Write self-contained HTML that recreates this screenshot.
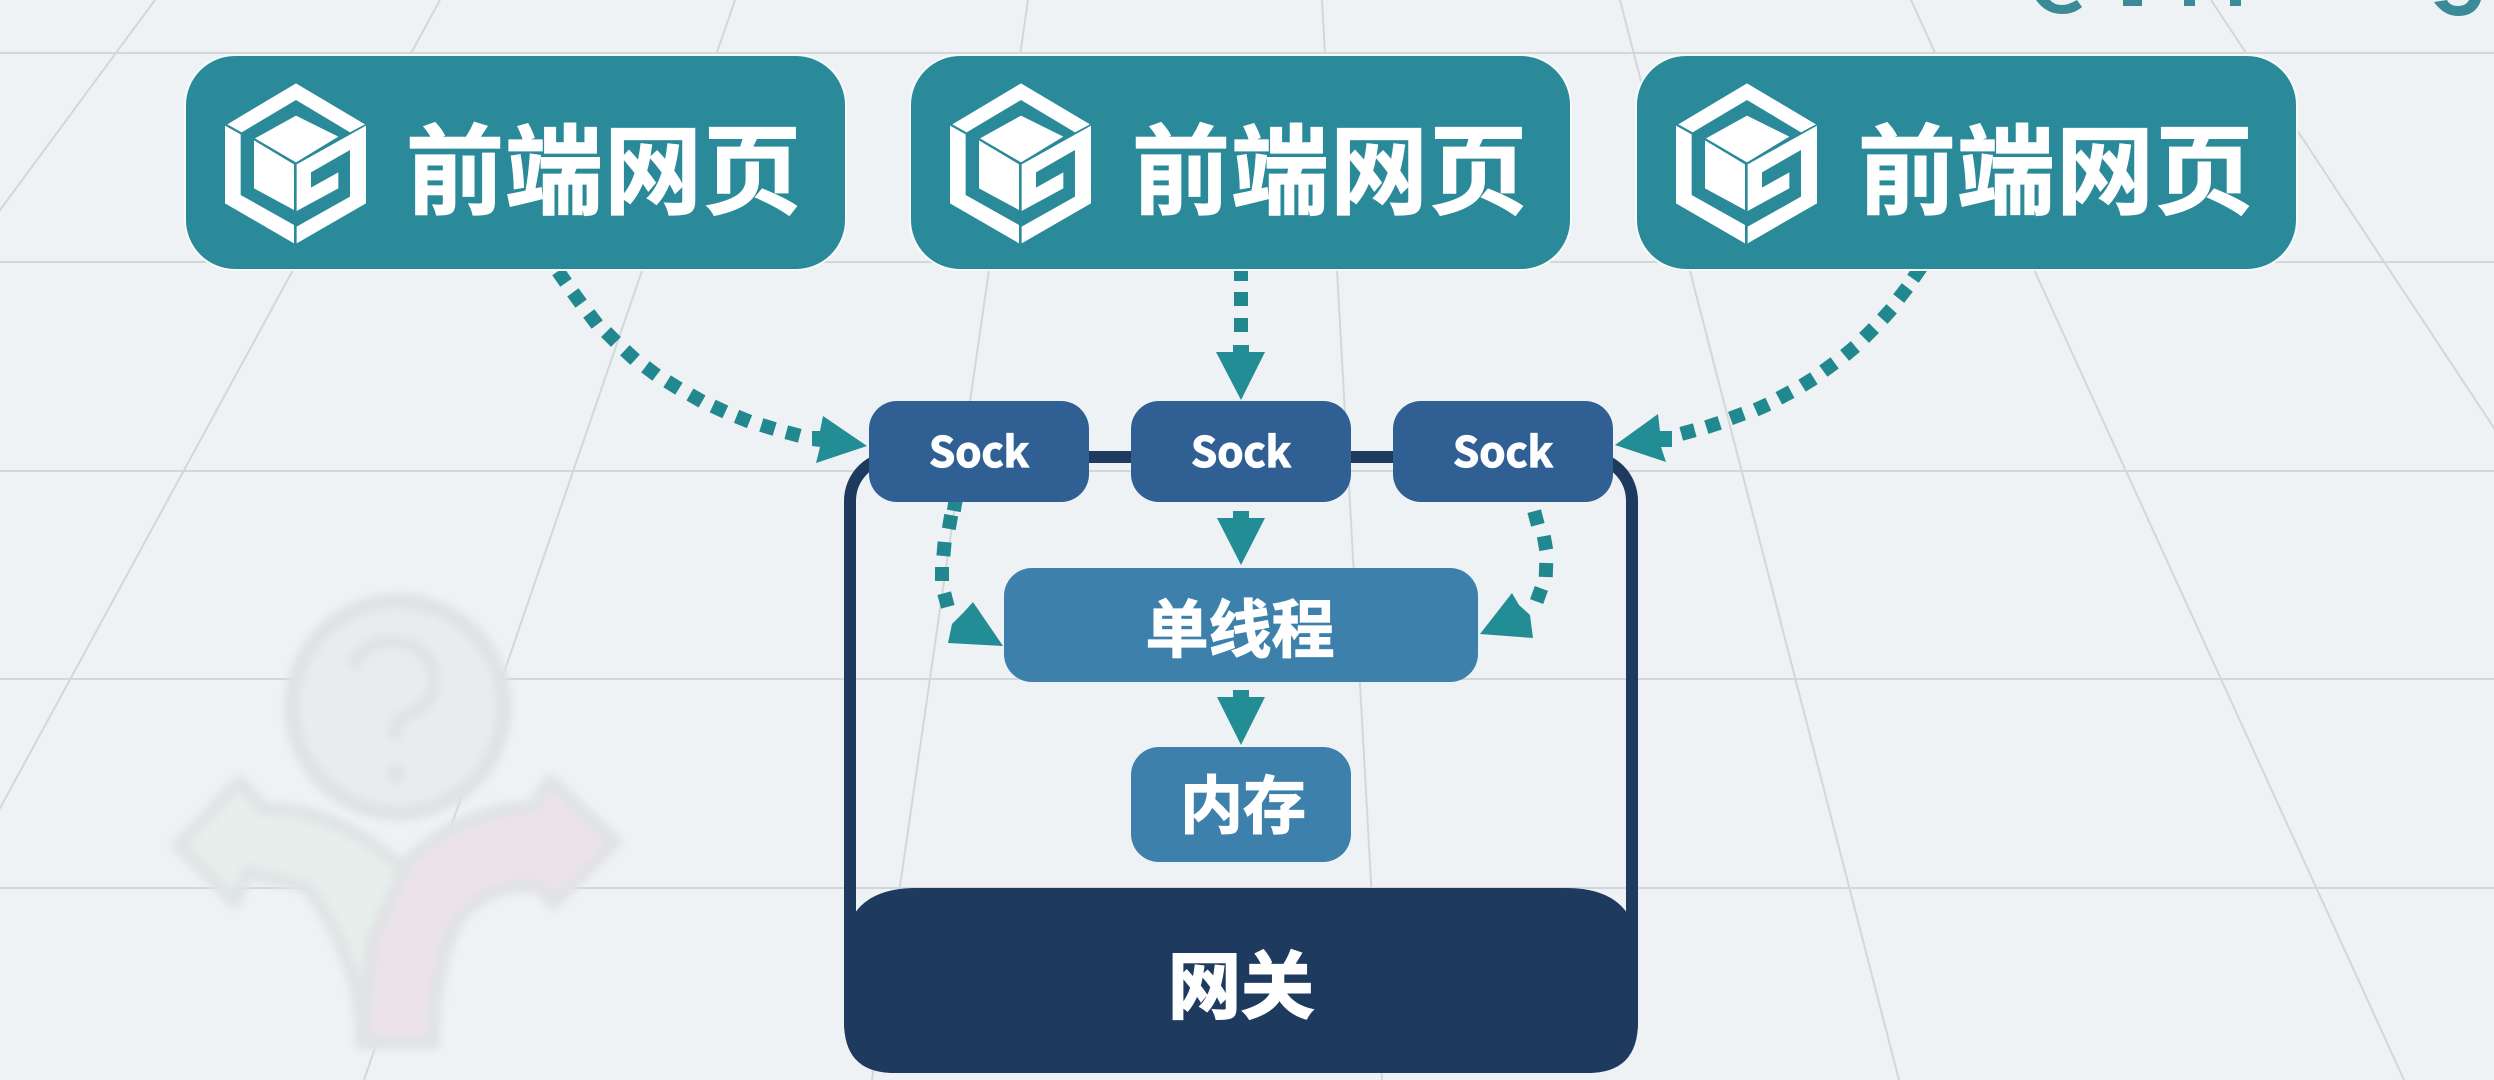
<!DOCTYPE html>
<html><head><meta charset="utf-8"><style>
html,body{margin:0;padding:0;background:#eef2f4}
svg{display:block}
text{font-family:"Liberation Sans","Noto Sans CJK SC",sans-serif;font-weight:700;fill:#fff;stroke:#fff;stroke-width:1.2;text-anchor:middle}
.s{font-family:"Noto Sans CJK SC",sans-serif}
.g line{stroke:#d3d7d9;stroke-width:2}
.d rect{fill:#22888f;width:14px;height:14px;x:-7px;y:-7px}
.h{fill:#238d96}
</style></head><body>
<svg width="2494" height="1080" viewBox="0 0 2494 1080" xmlns="http://www.w3.org/2000/svg">
<defs>
<filter id="b" x="-10%" y="-10%" width="120%" height="120%"><feGaussianBlur stdDeviation="4"/></filter>
<g id="logo" transform="scale(.3333)" fill="#fff">
<polygon points="258,25 465,148 420,172 258,75 95,172 52,148"/>
<polygon points="45,152 92,178 92,360 252,450 252,505 45,385"/>
<polygon points="260,268 468,152 468,385 260,505 260,455 420,365 420,225 303,292 303,338 385,292 385,340 260,408"/>
<polygon points="258,122 385,185 258,262 135,190"/>
<polygon points="132,196 252,268 252,405 132,340"/>
</g>
</defs>
<rect width="2494" height="1080" fill="#eef2f4"/>
<g class="g">
<line x1="0" y1="53" x2="2494" y2="53"/><line x1="0" y1="262" x2="2494" y2="262"/><line x1="0" y1="471" x2="2494" y2="471"/><line x1="0" y1="679" x2="2494" y2="679"/><line x1="0" y1="888" x2="2494" y2="888"/>
<line x1="155" y1="0" x2="-642" y2="1080"/>
<line x1="440" y1="0" x2="-148" y2="1080"/>
<line x1="735" y1="0" x2="364" y2="1080"/>
<line x1="1028" y1="0" x2="872" y2="1080"/>
<line x1="1322" y1="0" x2="1382" y2="1080"/>
<line x1="1620" y1="0" x2="1899" y2="1080"/>
<line x1="1911" y1="0" x2="2404" y2="1080"/>
<line x1="2211" y1="0" x2="2925" y2="1080"/>
</g>
<g filter="url(#b)">
<circle cx="398" cy="707" r="106" fill="#e8ecee" stroke="#dfe3e6" stroke-width="16"/>
<path d="M352 668 Q362 640 396 642 Q432 645 434 680 Q434 705 405 716 Q394 722 394 740" fill="none" stroke="#dfe3e6" stroke-width="13"/>
<circle cx="396" cy="774" r="10" fill="#dfe3e6"/>
<path d="M178 845 L240 782 L263 808 Q340 810 400 867 L410 890 L400 1043 L362 1043 Q362 960 307 887 L247 872 L235 902 Z" fill="#e6efec" stroke="#e0e4e6" stroke-width="14" stroke-linejoin="round"/>
<path d="M615 842 L550 781 L533 807 Q460 810 407 863 L372 940 L362 1043 L433 1043 Q433 970 457 920 Q490 880 540 887 L553 903 Z" fill="#ece3e8" stroke="#e1e3e5" stroke-width="14" stroke-linejoin="round"/>
</g>
<g fill="#3a8a98">
<path d="M2036 0 Q2046 14 2062 14 Q2074 14 2082 7 L2077 0 Q2068 5 2062 5 Q2054 5 2050 0 Z"/>
<rect x="2123" y="0" width="19" height="6"/>
<rect x="2184" y="0" width="11" height="6"/><rect x="2230" y="0" width="11" height="6"/>
<path d="M2434 2 Q2444 16 2458 16 Q2476 16 2481 0 L2469 0 Q2466 6 2458 6 Q2450 6 2447 0 Z"/>
</g>
<g class="d">
<rect transform="translate(562 277) rotate(55)"/><rect transform="translate(577 298) rotate(54)"/><rect transform="translate(593 319) rotate(53)"/><rect transform="translate(611 337) rotate(45)"/><rect transform="translate(630 355) rotate(43)"/><rect transform="translate(651 371) rotate(37)"/><rect transform="translate(673 385) rotate(32)"/><rect transform="translate(696 398) rotate(30)"/><rect transform="translate(719 409) rotate(25)"/><rect transform="translate(743 419) rotate(22)"/><rect transform="translate(768 427) rotate(17)"/><rect transform="translate(793 434) rotate(15)"/>
<rect transform="translate(1917 273) rotate(-55)"/><rect transform="translate(1903 293) rotate(-52)"/><rect transform="translate(1887 314) rotate(-48)"/><rect transform="translate(1869 333) rotate(-45)"/><rect transform="translate(1850 351) rotate(-40)"/><rect transform="translate(1829 367) rotate(-36)"/><rect transform="translate(1808 382) rotate(-32)"/><rect transform="translate(1785 395) rotate(-28)"/><rect transform="translate(1762 407) rotate(-24)"/><rect transform="translate(1737 416) rotate(-20)"/><rect transform="translate(1713 425) rotate(-18)"/><rect transform="translate(1688 432) rotate(-15)"/>
<rect transform="translate(1241 274)"/><rect transform="translate(1241 299)"/><rect transform="translate(1241 325)"/>
<rect transform="translate(955 504) rotate(100)"/><rect transform="translate(950 522) rotate(100)"/><rect transform="translate(944 549) rotate(95)"/><rect transform="translate(942 574) rotate(90)"/><rect transform="translate(946 600) rotate(75)"/>
<rect transform="translate(1536 518) rotate(75)"/><rect transform="translate(1545 543) rotate(80)"/><rect transform="translate(1546 570) rotate(92)"/><rect transform="translate(1539 595) rotate(110)"/>
</g>
<g class="h">
<polygon points="823,416 867,446 816,463 820,447 812,446 812,431 820,431"/>
<polygon points="1615,445 1658,414 1660,431 1672,431 1672,447 1661,447 1666,462"/>
<polygon points="1216,352 1233,352 1233,345 1249,345 1249,352 1265,352 1241,400"/>
<polygon points="1217,518 1233,518 1233,511 1249,511 1249,518 1265,518 1241,565"/>
<polygon points="1217,697 1233,697 1233,690 1249,690 1249,697 1265,697 1241,745"/>
<polygon points="1003,646 973,602 964,612 952,624 948,643"/>
<polygon points="1480,634 1512,593 1519,605 1530,615 1533,638"/>
</g>
<rect x="850" y="457" width="782" height="610" rx="44" fill="none" stroke="#1e3a5f" stroke-width="12"/>
<g fill="#2b8a99" stroke="#f6fbfb" stroke-width="2">
<rect x="185" y="55" width="661" height="215" rx="50"/>
<rect x="910" y="55" width="661" height="215" rx="50"/>
<rect x="1636" y="55" width="661" height="215" rx="50"/>
</g>
<use href="#logo" transform="translate(210 75)"/>
<use href="#logo" transform="translate(935 75)"/>
<use href="#logo" transform="translate(1661 75)"/>
<g font-size="98" letter-spacing="1" style="stroke-width:2.5">
<text class="s" x="604" y="206">前端网页</text>
<text class="s" x="1330" y="206">前端网页</text>
<text class="s" x="2056" y="206">前端网页</text>
</g>
<g fill="#2f5f93">
<rect x="869" y="401" width="220" height="101" rx="28"/>
<rect x="1131" y="401" width="220" height="101" rx="28"/>
<rect x="1393" y="401" width="220" height="101" rx="28"/>
</g>
<g font-size="42">
<text class="s" x="979" y="467">Sock</text>
<text class="s" x="1241" y="467">Sock</text>
<text class="s" x="1503" y="467">Sock</text>
</g>
<rect x="1004" y="568" width="474" height="114" rx="28" fill="#3d80ac"/>
<rect x="1131" y="747" width="220" height="115" rx="28" fill="#3d80ac"/>
<path d="M844 1022 L844 945 Q850 888 916 888 L1566 888 Q1632 888 1638 945 L1638 1022 Q1638 1073 1588 1073 L894 1073 Q844 1073 844 1022 Z" fill="#1e3a5f"/>
<text class="s" x="1240" y="652" font-size="63">单线程</text>
<text class="s" x="1243" y="828" font-size="63">内存</text>
<text class="s" x="1241" y="1012" font-size="73" style="stroke-width:2">网关</text>
</svg>
</body></html>
